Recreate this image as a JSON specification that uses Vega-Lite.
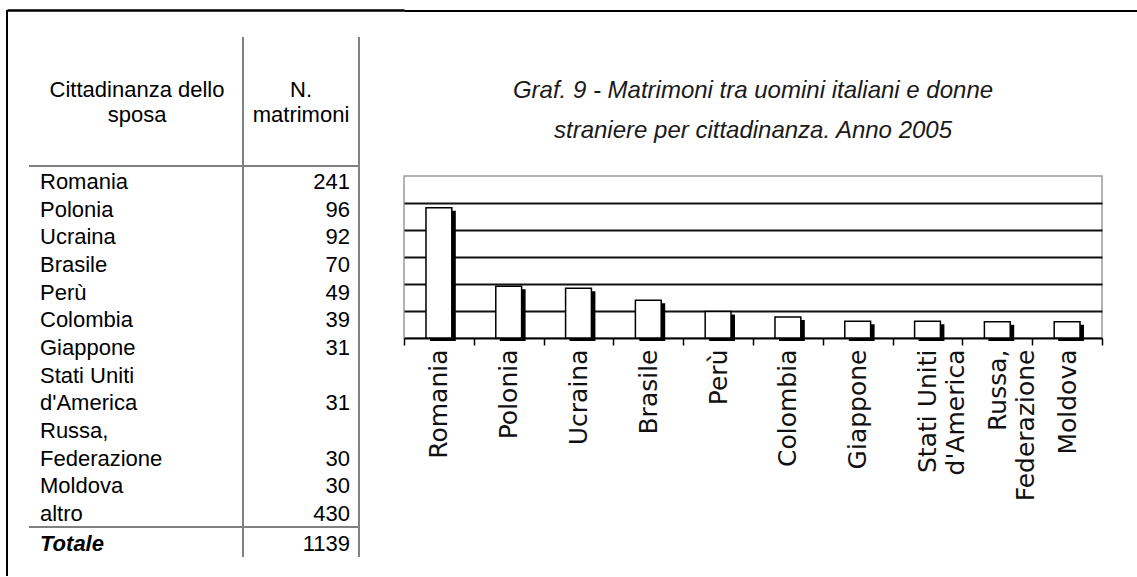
{
  "$schema": "https://vega.github.io/schema/vega-lite/v6.json",
  "background": "white",
  "padding": {"left": 6, "top": 9, "right": 0, "bottom": 0},
  "data": {"values": [
    {"cittadinanza": "Romania", "matrimoni": 241},
    {"cittadinanza": "Polonia", "matrimoni": 96},
    {"cittadinanza": "Ucraina", "matrimoni": 92},
    {"cittadinanza": "Brasile", "matrimoni": 70},
    {"cittadinanza": "Perù", "matrimoni": 49},
    {"cittadinanza": "Colombia", "matrimoni": 39},
    {"cittadinanza": "Giappone", "matrimoni": 31},
    {"cittadinanza": "Stati Uniti\nd'America", "matrimoni": 31},
    {"cittadinanza": "Russa,\nFederazione", "matrimoni": 30},
    {"cittadinanza": "Moldova", "matrimoni": 30},
    {"cittadinanza": "altro", "matrimoni": 430},
    {"cittadinanza": "Totale", "matrimoni": 1139}
  ]},
  "spacing": -13,
  "hconcat": [
    {
      "width": 397,
      "height": 566,
      "view": {"stroke": null},
      "layer": [
        {
          "data": {"values": [{}]},
          "mark": {"type": "rule", "color": "#000", "strokeWidth": 2, "yOffset": -173, "y2Offset": 33.3},
          "encoding": {
            "x": {"datum": 0, "type": "quantitative", "scale": {"domain": [0, 100], "nice": false, "zero": false}, "axis": {"orient": "top", "title": null, "labels": false, "ticks": false, "grid": false, "domain": true, "domainColor": "#000", "domainWidth": 2.5, "minExtent": 0, "maxExtent": 0}},
            "y": {"datum": "Romania", "type": "nominal", "scale": {"type": "point", "domain": ["Romania", "Polonia", "Ucraina", "Brasile", "Perù", "Colombia", "Giappone", "_riga1", "Stati Uniti\nd'America", "_riga2", "Russa,\nFederazione", "Moldova", "altro", "Totale"], "range": [173, 532.7], "padding": 0}, "axis": null},
            "y2": {"datum": "Totale"}
          }
        },
        {
          "data": {"values": [{}]},
          "mark": {"type": "text", "text": ["Cittadinanza dello", "sposa"], "align": "center", "baseline": "middle", "lineHeight": 25, "fontSize": 22, "font": "Liberation Sans", "color": "#000", "dy": -93},
          "encoding": {
            "x": {"datum": 32.75, "type": "quantitative", "axis": {"orient": "top", "title": null, "labels": false, "ticks": false, "grid": false, "domain": true, "domainColor": "#000", "domainWidth": 2.5, "minExtent": 0, "maxExtent": 0}},
            "y": {"datum": "Romania", "type": "nominal", "axis": null}
          }
        },
        {
          "data": {"values": [{}]},
          "mark": {"type": "text", "text": ["N.", "matrimoni"], "align": "center", "baseline": "middle", "lineHeight": 25, "fontSize": 22, "font": "Liberation Sans", "color": "#000", "dy": -93},
          "encoding": {
            "x": {"datum": 74.06, "type": "quantitative", "axis": {"orient": "top", "title": null, "labels": false, "ticks": false, "grid": false, "domain": true, "domainColor": "#000", "domainWidth": 2.5, "minExtent": 0, "maxExtent": 0}},
            "y": {"datum": "Romania", "type": "nominal", "axis": null}
          }
        },
        {
          "data": {"values": [{}]},
          "mark": {"type": "rule", "color": "#808080", "strokeWidth": 2, "yOffset": -146, "y2Offset": 14.3},
          "encoding": {
            "x": {"datum": 59.45, "type": "quantitative", "axis": {"orient": "top", "title": null, "labels": false, "ticks": false, "grid": false, "domain": true, "domainColor": "#000", "domainWidth": 2.5, "minExtent": 0, "maxExtent": 0}},
            "y": {"datum": "Romania", "type": "nominal", "axis": null},
            "y2": {"datum": "Totale"}
          }
        },
        {
          "data": {"values": [{}]},
          "mark": {"type": "rule", "color": "#808080", "strokeWidth": 2, "yOffset": -146, "y2Offset": 14.3},
          "encoding": {
            "x": {"datum": 88.66, "type": "quantitative", "axis": {"orient": "top", "title": null, "labels": false, "ticks": false, "grid": false, "domain": true, "domainColor": "#000", "domainWidth": 2.5, "minExtent": 0, "maxExtent": 0}},
            "y": {"datum": "Romania", "type": "nominal", "axis": null},
            "y2": {"datum": "Totale"}
          }
        },
        {
          "data": {"values": [{}]},
          "mark": {"type": "rule", "color": "#808080", "strokeWidth": 2, "yOffset": -17},
          "encoding": {
            "x": {"datum": 5.54, "type": "quantitative", "axis": {"orient": "top", "title": null, "labels": false, "ticks": false, "grid": false, "domain": true, "domainColor": "#000", "domainWidth": 2.5, "minExtent": 0, "maxExtent": 0}},
            "x2": {"datum": 88.66},
            "y": {"datum": "Romania", "type": "nominal", "axis": null}
          }
        },
        {
          "data": {"values": [{}]},
          "mark": {"type": "rule", "color": "#808080", "strokeWidth": 2, "yOffset": -15.7},
          "encoding": {
            "x": {"datum": 5.54, "type": "quantitative", "axis": {"orient": "top", "title": null, "labels": false, "ticks": false, "grid": false, "domain": true, "domainColor": "#000", "domainWidth": 2.5, "minExtent": 0, "maxExtent": 0}},
            "x2": {"datum": 88.66},
            "y": {"datum": "Totale", "type": "nominal", "axis": null}
          }
        },
        {
          "transform": [{"filter": "datum.cittadinanza != 'Totale' && indexof(datum.cittadinanza, '\\n') < 0"}],
          "mark": {"type": "text", "align": "left", "baseline": "bottom", "dy": 11, "fontSize": 22, "font": "Liberation Sans", "color": "#000"},
          "encoding": {
            "x": {"datum": 8.31, "type": "quantitative", "axis": {"orient": "top", "title": null, "labels": false, "ticks": false, "grid": false, "domain": true, "domainColor": "#000", "domainWidth": 2.5, "minExtent": 0, "maxExtent": 0}},
            "y": {"field": "cittadinanza", "type": "nominal", "axis": null},
            "text": {"field": "cittadinanza", "type": "nominal"}
          }
        },
        {
          "transform": [{"filter": "indexof(datum.cittadinanza, '\\n') >= 0"}],
          "mark": {"type": "text", "align": "left", "baseline": "bottom", "dy": -16.67, "lineBreak": "\n", "lineHeight": 27.67, "fontSize": 22, "font": "Liberation Sans", "color": "#000"},
          "encoding": {
            "x": {"datum": 8.31, "type": "quantitative", "axis": {"orient": "top", "title": null, "labels": false, "ticks": false, "grid": false, "domain": true, "domainColor": "#000", "domainWidth": 2.5, "minExtent": 0, "maxExtent": 0}},
            "y": {"field": "cittadinanza", "type": "nominal", "axis": null},
            "text": {"field": "cittadinanza", "type": "nominal"}
          }
        },
        {
          "transform": [{"filter": "datum.cittadinanza != 'Totale'"}],
          "mark": {"type": "text", "align": "right", "baseline": "bottom", "dy": 11, "fontSize": 22, "font": "Liberation Sans", "color": "#000"},
          "encoding": {
            "x": {"datum": 86.4, "type": "quantitative", "axis": {"orient": "top", "title": null, "labels": false, "ticks": false, "grid": false, "domain": true, "domainColor": "#000", "domainWidth": 2.5, "minExtent": 0, "maxExtent": 0}},
            "y": {"field": "cittadinanza", "type": "nominal", "axis": null},
            "text": {"field": "matrimoni", "type": "quantitative", "format": "d"}
          }
        },
        {
          "transform": [{"filter": "datum.cittadinanza == 'Totale'"}],
          "mark": {"type": "text", "align": "left", "baseline": "bottom", "dy": 13, "fontSize": 22, "font": "Liberation Sans", "fontWeight": "bold", "fontStyle": "italic", "color": "#000"},
          "encoding": {
            "x": {"datum": 8.31, "type": "quantitative", "axis": {"orient": "top", "title": null, "labels": false, "ticks": false, "grid": false, "domain": true, "domainColor": "#000", "domainWidth": 2.5, "minExtent": 0, "maxExtent": 0}},
            "y": {"field": "cittadinanza", "type": "nominal", "axis": null},
            "text": {"field": "cittadinanza", "type": "nominal"}
          }
        },
        {
          "transform": [{"filter": "datum.cittadinanza == 'Totale'"}],
          "mark": {"type": "text", "align": "right", "baseline": "bottom", "dy": 13, "fontSize": 22, "font": "Liberation Sans", "color": "#000"},
          "encoding": {
            "x": {"datum": 86.4, "type": "quantitative", "axis": {"orient": "top", "title": null, "labels": false, "ticks": false, "grid": false, "domain": true, "domainColor": "#000", "domainWidth": 2.5, "minExtent": 0, "maxExtent": 0}},
            "y": {"field": "cittadinanza", "type": "nominal", "axis": null},
            "text": {"field": "matrimoni", "type": "quantitative", "format": "d"}
          }
        }
      ]
    },
    {
      "spacing": 66,
      "vconcat": [
        {
          "width": 733,
          "height": 1,
          "view": {"stroke": "#000", "strokeWidth": 1},
          "data": {"values": []},
          "mark": "rule",
          "encoding": {}
        },
        {
          "width": 698,
          "height": 162,
          "view": {"stroke": "#9a9a9a", "strokeWidth": 1.5},
          "title": {
            "text": ["Graf. 9 - Matrimoni tra uomini italiani e donne", "straniere per cittadinanza. Anno 2005"],
            "anchor": "middle",
            "font": "Liberation Sans",
            "fontSize": 24,
            "fontStyle": "italic",
            "fontWeight": "normal",
            "lineHeight": 40,
            "offset": 33,
            "color": "#1a1a1a"
          },
          "transform": [{"filter": "datum.cittadinanza != 'altro' && datum.cittadinanza != 'Totale'"}],
          "encoding": {
            "x": {
              "field": "cittadinanza",
              "type": "nominal",
              "sort": null,
              "scale": {"paddingInner": 0, "paddingOuter": 0},
              "axis": {
                "title": null,
                "labelAngle": -90,
                "labelAlign": "right",
                "labelBaseline": "middle",
                "labelFont": "DejaVu Sans",
                "labelFontSize": 25,
                "labelFontWeight": "normal",
                "labelColor": "#111",
                "labelPadding": 4,
                "labelLineHeight": 28,
                "labelLimit": 260,
                "labelOverlap": false,
                "labelExpr": "split(datum.label, '\\n')",
                "domainColor": "#000",
                "domainWidth": 2,
                "tickColor": "#000",
                "tickWidth": 1.5,
                "tickSize": 7,
                "tickBand": "extent",
                "grid": false
              }
            },
            "y": {
              "field": "matrimoni",
              "type": "quantitative",
              "scale": {"domain": [0, 300], "nice": false},
              "axis": {
                "title": null,
                "values": [50, 100, 150, 200, 250],
                "grid": true,
                "gridColor": "#111",
                "gridWidth": 2,
                "labels": false,
                "ticks": false,
                "domain": false,
                "minExtent": 0,
                "maxExtent": 0
              }
            }
          },
          "layer": [
            {"mark": {"type": "bar", "color": "#000", "width": {"band": 0.37}, "xOffset": 4, "yOffset": 3}},
            {"mark": {"type": "bar", "fill": "#fff", "stroke": "#000", "strokeWidth": 1.5, "width": {"band": 0.37}}}
          ]
        }
      ]
    }
  ],
  "config": {"view": {"stroke": null}, "font": "Liberation Sans"}
}
